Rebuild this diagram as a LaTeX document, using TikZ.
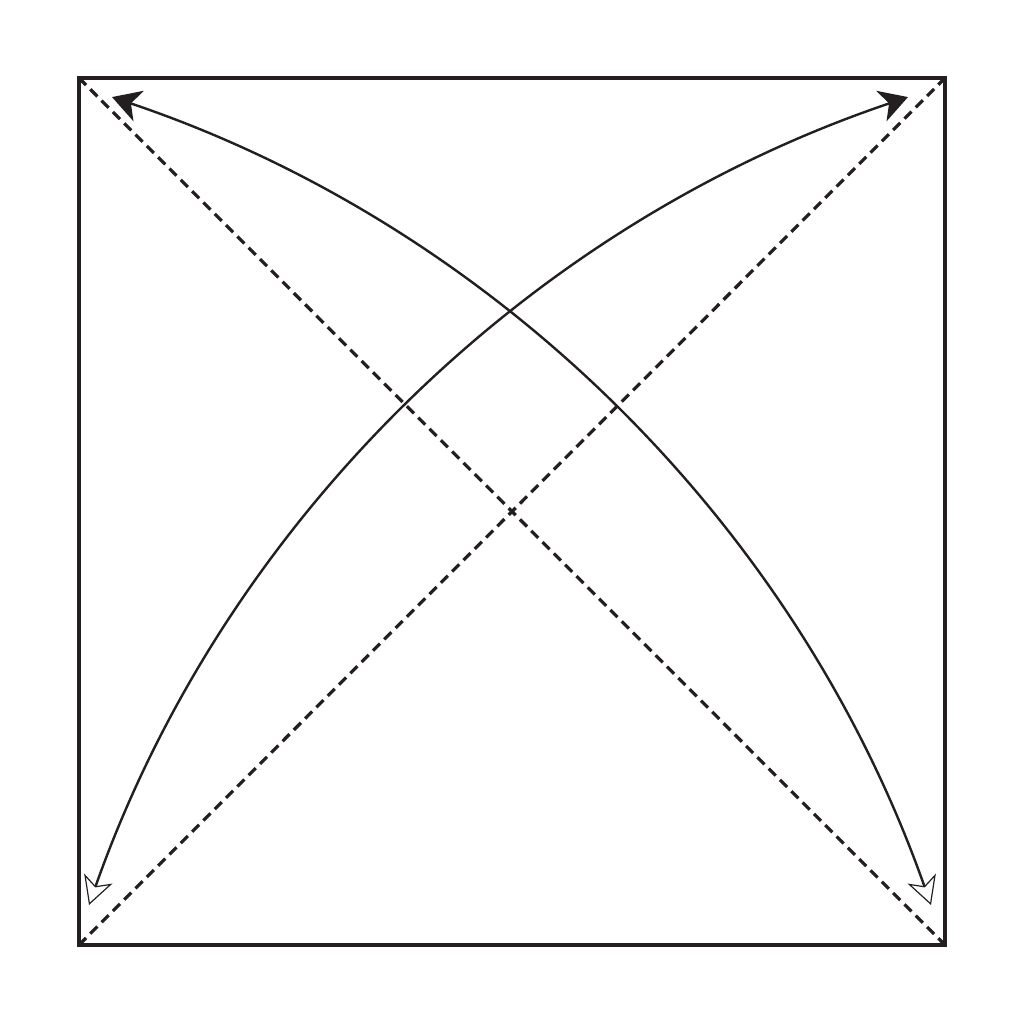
\documentclass[tikz,border=0pt]{standalone}
\usetikzlibrary{arrows.meta}
\definecolor{ink}{HTML}{231F20}
\begin{document}
\begin{tikzpicture}[x=0.5pt,y=0.5pt,
  frame/.style={draw=ink, line width=1.7pt, line join=miter},
  diag/.style={draw=ink, line width=1.6pt, dash pattern=on 5pt off 3pt},
  curve/.style={draw=ink, line width=1.2pt,
    {Stealth[open,length=14pt,width=15pt,inset=4pt,line width=0.6pt,fill=white]}-{Stealth[length=14pt,width=16pt,inset=4pt,fill=ink]}}]
\useasboundingbox (0,0) rectangle (1024,1024);
\coordinate (tl) at (79,946);
\coordinate (tr) at (945,946);
\coordinate (bl) at (79,79);
\coordinate (br) at (945,79);
\draw[frame] (tl) -- (tr) -- (br) -- (bl) -- cycle;
\draw[diag] (tl) -- (br);
\draw[diag] (bl) -- (tr);
\coordinate (s1) at (89,119);
\coordinate (s2) at (931,119);
\draw[curve] (s1) arc[start angle=160.57, end angle=108.65, radius=1314.1];
\draw[curve] (s2) arc[start angle=19.43, end angle=71.35, radius=1314.1];
\end{tikzpicture}
\end{document}
